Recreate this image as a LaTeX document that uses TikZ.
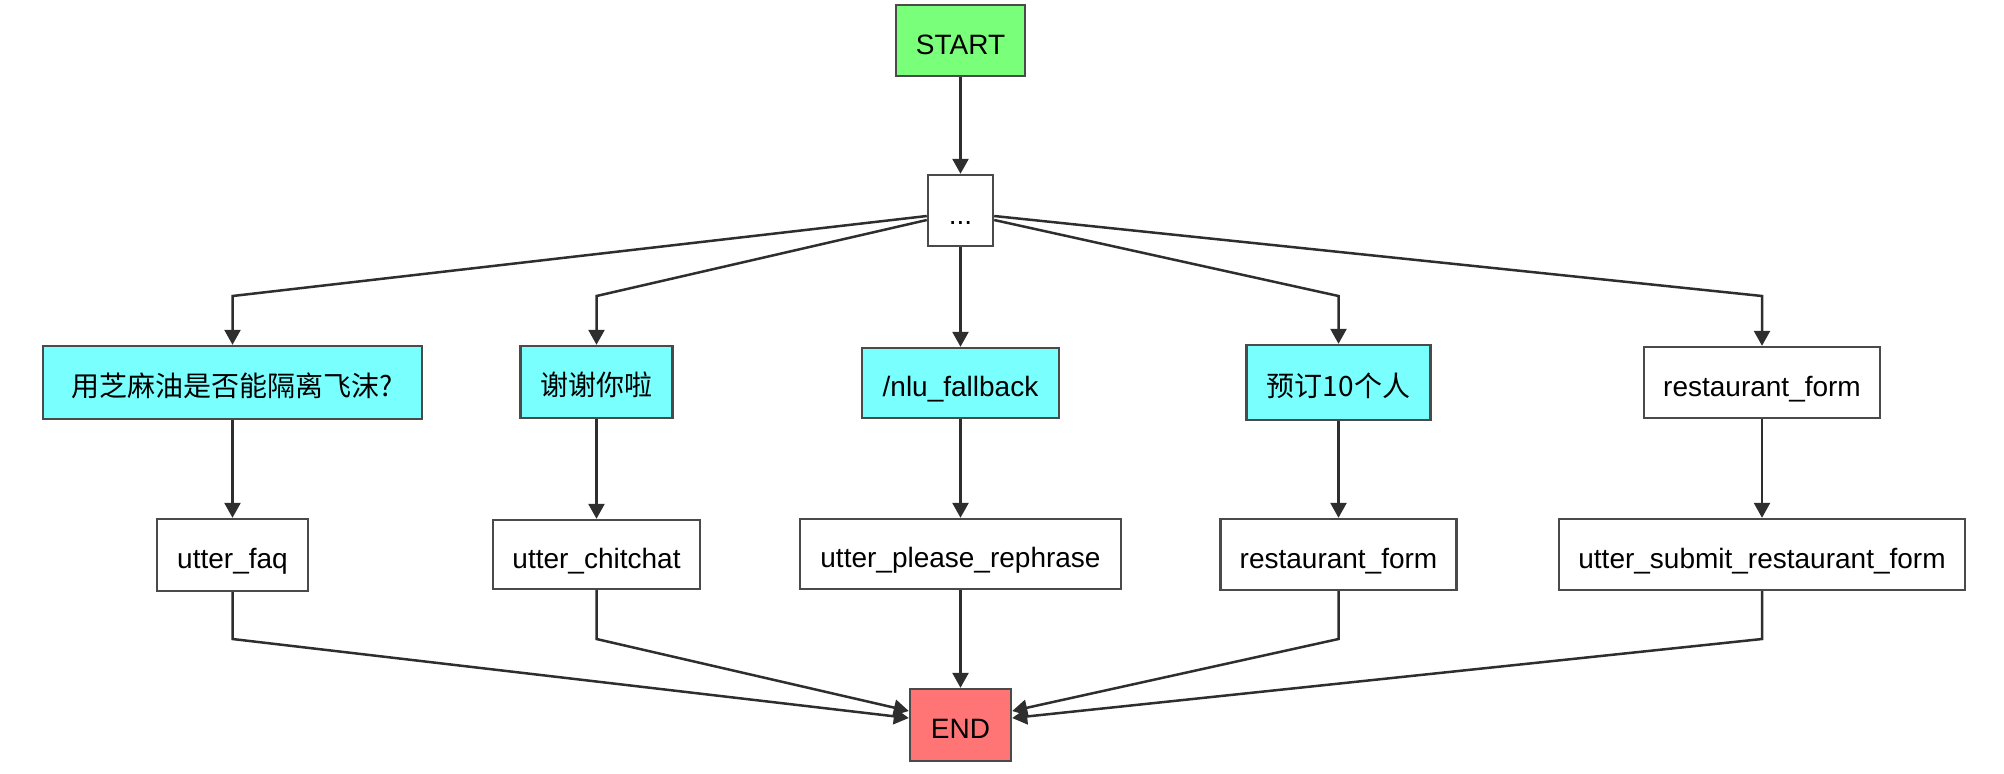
\documentclass[tikz,border=0pt]{standalone}
\usepackage{fontspec}
\setmainfont{Liberation Sans}
\newfontfamily\cjk{Noto Sans CJK SC}
\usetikzlibrary{arrows.meta}
\definecolor{startgreen}{HTML}{7AFF7A}
\definecolor{qcyan}{HTML}{7AFFFF}
\definecolor{endred}{HTML}{FF7575}
\definecolor{boxline}{HTML}{4A4A4A}
\definecolor{edgeline}{HTML}{2E2E2E}
\tikzset{
  box/.style={draw=boxline, line width=1.2pt, fill=white, inner sep=0pt, text height=13.5pt, text depth=0pt, font=\fontsize{14}{16}\selectfont, text=black},
  edge/.style={draw=edgeline, line width=1.25pt, -{Triangle[length=7.5pt,width=8pt]}},
}
\begin{document}
\begin{tikzpicture}[x=0.5pt,y=-0.5pt]
\useasboundingbox (0,0) rectangle (2004,773);
% nodes
\node[box, fill=startgreen, minimum width=64.5pt, minimum height=35.5pt] (start) at (960.5,40.5) {START};
\node[box, minimum width=32.5pt, minimum height=35.5pt] (dots) at (960.5,210.5) {...};
\node[box, fill=qcyan, minimum width=189.5pt, minimum height=36.5pt] (q1) at (232.5,382.5) {\cjk 用芝麻油是否能隔离飞沫?};
\node[box, fill=qcyan, minimum width=76pt, minimum height=36pt] (q2) at (596.5,382) {\cjk 谢谢你啦};
\node[box, fill=qcyan, minimum width=98.5pt, minimum height=35pt] (q3) at (960.5,383) {/nlu\_fallback};
\node[box, fill=qcyan, minimum width=92pt, minimum height=37.5pt] (q4) at (1338.5,382.5) {\cjk 预订10个人};
\node[box, minimum width=118pt, minimum height=35.5pt] (q5) at (1762,382.5) {restaurant\_form};
\node[box, minimum width=75.5pt, minimum height=36pt] (a1) at (232.5,555) {utter\_faq};
\node[box, minimum width=103.5pt, minimum height=34.5pt] (a2) at (596.5,554.5) {utter\_chitchat};
\node[box, minimum width=160.5pt, minimum height=35pt] (a3) at (960.5,554) {utter\_please\_rephrase};
\node[box, minimum width=118pt, minimum height=35.5pt] (a4) at (1338.5,554.5) {restaurant\_form};
\node[box, minimum width=203pt, minimum height=35.5pt] (a5) at (1762,554.5) {utter\_submit\_restaurant\_form};
\node[box, fill=endred, minimum width=50.5pt, minimum height=36pt] (end) at (960.5,725) {END};
% bend rows
\coordinate (rowA) at (960,296);
\coordinate (rowB) at (960,639);
% edges
\draw[edge] (start) -- (dots);
\draw[edge] ([yshift=-2.75pt]dots.west) -- (q1.north |- rowA) -- (q1.north);
\draw[edge] ([yshift=-4.75pt]dots.west) -- (q2.north |- rowA) -- (q2.north);
\draw[edge] (dots) -- (q3);
\draw[edge] ([yshift=-4.75pt]dots.east) -- (q4.north |- rowA) -- (q4.north);
\draw[edge] ([yshift=-2.75pt]dots.east) -- (q5.north |- rowA) -- (q5.north);
\draw[edge] (q1) -- (a1);
\draw[edge] (q2) -- (a2);
\draw[edge] (q3) -- (a3);
\draw[edge] (q4) -- (a4);
\draw[edge] (q5) -- (a5);
\draw[edge] (a1.south) -- (a1.south |- rowB) -- ([yshift=3.5pt]end.west);
\draw[edge] (a2.south) -- (a2.south |- rowB) -- ([yshift=7pt]end.west);
\draw[edge] (a3) -- (end);
\draw[edge] (a4.south) -- (a4.south |- rowB) -- ([yshift=7pt]end.east);
\draw[edge] (a5.south) -- (a5.south |- rowB) -- ([yshift=3.5pt]end.east);
\end{tikzpicture}
\end{document}
